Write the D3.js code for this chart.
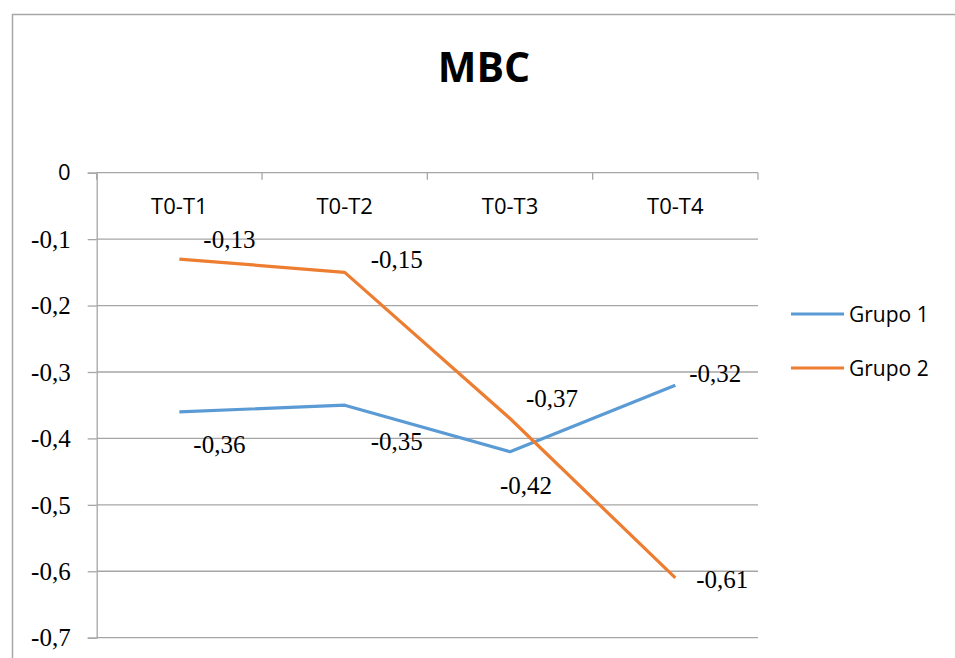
<!DOCTYPE html>
<html>
<head>
<meta charset="utf-8">
<script src="https://cdn.jsdelivr.net/npm/d3@7"></script>
<style>
  html, body { margin: 0; padding: 0; background: #fff; }
  svg { display: block; }
</style>
</head>
<body>
<svg id="chart" width="955" height="658"></svg>
<script>
// Data
const categories = ["T0-T1", "T0-T2", "T0-T3", "T0-T4"];
const grupo1 = [-0.36, -0.35, -0.42, -0.32];
const grupo2 = [-0.13, -0.15, -0.37, -0.61];
const seriesNames = ["Grupo 1", "Grupo 2"];
const yTicks = [0, -0.1, -0.2, -0.3, -0.4, -0.5, -0.6, -0.7];

// Label placement offsets (dx, dy from the point to the label baseline centre)
const labelOffsets1 = [[40, 41], [52, 45], [16, 42], [40, -3]];
const labelOffsets2 = [[50, -11], [52, -4], [42, -11], [47, 10]];

const colors = ["#5B9BD5", "#ED7D31"];
const gridColor = "#a6a6a6";
const sansFont = "'Open Sans', Lato, sans-serif";
const serifFont = "'Liberation Serif', 'Times New Roman', serif";

// Decimal comma with a plain hyphen for the sign
const fmt = (d, digits) => d3.format("." + digits + "f")(d).replace("\u2212", "-").replace(".", ",");

const svg = d3.select("#chart");

// Outer chart border
svg.append("rect")
  .attr("x", 12.5).attr("y", 14.5)
  .attr("width", 1000).attr("height", 700)
  .attr("fill", "none")
  .attr("stroke", gridColor)
  .attr("stroke-width", 1.5);

const plot = { left: 96.7, right: 758, top: 172.7, bottom: 637.7 };

const x = d3.scaleBand().domain(categories).range([plot.left, plot.right]).padding(0);
const y = d3.scaleLinear().domain([-0.7, 0]).range([plot.bottom, plot.top]);

// Title
svg.append("text")
  .attr("x", 484).attr("y", 82)
  .attr("text-anchor", "middle")
  .attr("font-family", sansFont)
  .attr("font-weight", "bold")
  .attr("font-size", 41)
  .text("MBC");

// Horizontal gridlines
svg.append("g").selectAll("line").data(yTicks).join("line")
  .attr("x1", plot.left).attr("x2", plot.right)
  .attr("y1", d => y(d)).attr("y2", d => y(d))
  .attr("stroke", gridColor).attr("stroke-width", 1.3);

// Value axis on the left
const yAxis = svg.append("g")
  .attr("transform", `translate(${plot.left},0)`)
  .call(d3.axisLeft(y).tickValues(yTicks).tickSize(9).tickPadding(0)
    .tickFormat(d => d === 0 ? "0" : fmt(d, 1)));
yAxis.select(".domain").attr("stroke", gridColor).attr("stroke-width", 1.3);
yAxis.selectAll(".tick line").attr("stroke", gridColor).attr("stroke-width", 1.3);
yAxis.selectAll(".tick text")
  .attr("x", -26)
  .attr("dy", "0.33em")
  .attr("fill", "#000")
  .attr("font-family", d => d === 0 ? sansFont : serifFont)
  .attr("font-size", d => d === 0 ? 22 : 25)
  .attr("text-anchor", "end");

// Category axis along the zero line, tick marks at band boundaries
const bounds = categories.map(c => x(c)).concat([plot.right]);
svg.append("g").selectAll("line").data(bounds).join("line")
  .attr("x1", d => d).attr("x2", d => d)
  .attr("y1", y(0)).attr("y2", y(0) + 7)
  .attr("stroke", gridColor).attr("stroke-width", 1.3);

svg.append("g").selectAll("text").data(categories).join("text")
  .attr("x", d => x(d) + x.bandwidth() / 2)
  .attr("y", 214)
  .attr("text-anchor", "middle")
  .attr("font-family", sansFont)
  .attr("font-size", 22)
  .text(d => d);

// Lines
const series = [grupo1, grupo2];
const offsets = [labelOffsets1, labelOffsets2];
const line = d3.line()
  .x((d, i) => x(categories[i]) + x.bandwidth() / 2)
  .y(d => y(d));

series.forEach((vals, s) => {
  svg.append("path")
    .datum(vals)
    .attr("d", line)
    .attr("fill", "none")
    .attr("stroke", colors[s])
    .attr("stroke-width", 3.2)
    .attr("stroke-linejoin", "round");
});

// Data labels
series.forEach((vals, s) => {
  svg.append("g").selectAll("text").data(vals).join("text")
    .attr("x", (d, i) => x(categories[i]) + x.bandwidth() / 2 + offsets[s][i][0])
    .attr("y", (d, i) => y(d) + offsets[s][i][1])
    .attr("text-anchor", "middle")
    .attr("font-family", serifFont)
    .attr("font-size", 25)
    .text(d => fmt(d, 2));
});

// Legend
const legend = svg.append("g");
seriesNames.forEach((name, s) => {
  const ly = 314 + s * 54;
  legend.append("line")
    .attr("x1", 791).attr("x2", 844)
    .attr("y1", ly).attr("y2", ly)
    .attr("stroke", colors[s]).attr("stroke-width", 3.2);
  legend.append("text")
    .attr("x", 849).attr("y", ly + 8)
    .attr("font-family", sansFont)
    .attr("font-size", 21)
    .text(name);
});
</script>
</body>
</html>
